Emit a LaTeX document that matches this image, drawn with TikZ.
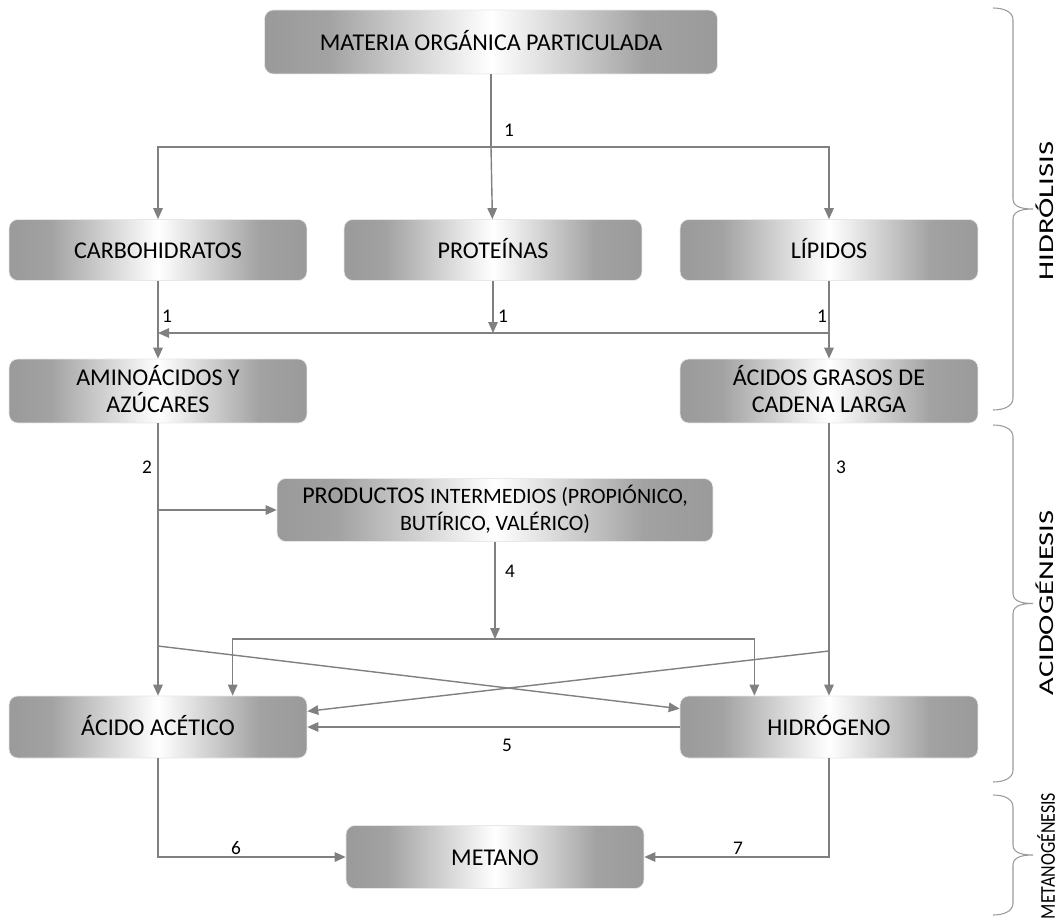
\documentclass[tikz,border=0pt]{standalone}
\usepackage{fontspec}
\setmainfont{Carlito}
\usetikzlibrary{arrows.meta,calc,positioning,decorations.pathreplacing}
\definecolor{cln}{RGB}{128,128,128}
\definecolor{cedge}{RGB}{154,154,154}
% grey at both ends, white in the middle
\pgfdeclarehorizontalshading{boxshade}{100bp}{color(0bp)=(cedge); color(25bp)=(cedge);
  color(32bp)=(cedge!92!white); color(50bp)=(white); color(67bp)=(cedge!92!white);
  color(75bp)=(cedge); color(100bp)=(cedge)}
\tikzset{
  box/.style={rectangle,rounded corners=5pt,shading=boxshade,draw=gray!18,
    line width=0.4pt,minimum width=5.96cm,minimum height=1.22cm,align=center,
    inner sep=3pt,font=\fontsize{13.7}{15.5}\selectfont,
    execute at begin node=\vphantom{Áy}},
  num/.style={inner sep=1pt,font=\fontsize{11}{13}\selectfont},
  side/.style={rotate=90,inner sep=1pt,font=\fontsize{12}{14}\selectfont},
  ln/.style={draw=cln,line width=0.8pt},
  arr/.style={ln,-{Triangle[length=2.2mm,width=1.9mm]}},
  brc/.style={draw=cedge,line width=0.6pt}
}
\newcommand{\smtext}{\fontsize{12.5}{15}\selectfont}
% phase brace on the right: #1 top, #2 bottom (px)
\newcommand{\phasebrace}[2]{%
  \draw[brc] (993,#1) to[out=0,in=90] (1013,#1+12) -- (1013,{(#1+#2)/2-10})
    to[out=-90,in=180] (1033,{(#1+#2)/2}) to[out=180,in=90] (1013,{(#1+#2)/2+10})
    -- (1013,#2-12) to[out=-90,in=0] (993,#2);}

\begin{document}
\begin{tikzpicture}[x=0.02cm,y=-0.02cm]
  \useasboundingbox (0,0) rectangle (1060,922);
  % boxes
  \node[box,minimum width=9.06cm,minimum height=1.28cm] (mat) at (491,42) {MATERIA ORGÁNICA PARTICULADA};
  \node[box] (carb) at (158,250) {CARBOHIDRATOS};
  \node[box] (prot) at (493,250) {PROTEÍNAS};
  \node[box] (lip) at (829,250) {LÍPIDOS};
  \node[box,minimum height=1.28cm] (amino) at (158,391) {AMINOÁCIDOS Y\\AZÚCARES};
  \node[box,minimum height=1.28cm] (grasos) at (829,391) {ÁCIDOS GRASOS DE\\CADENA LARGA};
  \node[box,minimum width=8.72cm,minimum height=1.26cm] (prod) at (495,510)
    {PRODUCTOS {\smtext INTERMEDIOS (PROPIÓNICO,}\\{\smtext BUTÍRICO, VALÉRICO)}};
  \node[box,minimum height=1.24cm] (acet) at (158,727) {ÁCIDO ACÉTICO};
  \node[box,minimum height=1.24cm] (hidro) at (829,727) {HIDRÓGENO};
  \node[box,minimum height=1.26cm] (met) at (495,857) {METANO};

  % hydrolysis
  \coordinate (h1) at (491,147);
  \draw[ln] (mat) -- (h1);
  \draw[arr] (h1) -| (carb);
  \draw[arr] (h1) -- (prot);
  \draw[arr] (h1) -| (lip);
  \coordinate (h2l) at (158,333);
  \coordinate (h2m) at (493,333);
  \coordinate (h2r) at (829,333);
  \draw[arr] (carb) -- (amino);
  \draw[arr] (lip) -- (grasos);
  \draw[arr] (prot) -- (h2m);
  \draw[arr] (h2r) -- (h2l);

  % acidogenesis
  \coordinate (b2) at (158,510);
  \coordinate (h4) at (495,639);
  \coordinate (x1) at (158,646);
  \coordinate (x2) at (829,651);
  \draw[arr] (amino) -- (acet);
  \draw[arr] (grasos) -- (hidro);
  \draw[arr] (b2) -- (prod);
  \draw[arr] (prod) -- (h4);
  \draw[arr] (h4) -| ($(acet.north)!0.5!(acet.north east)$);
  \draw[arr] (h4) -| ($(hidro.north)!0.5!(hidro.north west)$);
  \draw[arr] (x1) -- (hidro.173);
  \draw[arr] (x2) -- (acet.6);
  \draw[arr] (hidro) -- (acet);

  % methanogenesis
  \draw[arr] (acet) |- (met);
  \draw[arr] (hidro) |- (met);

  % step numbers
  \node[num] (n1) at (509,130) {1};
  \node[num] (n1a) at (167,316) {1};
  \node[num] (n1b) at (503,316) {1};
  \node[num] (n1c) at (822,316) {1};
  \node[num] (n2) at (147,467) {2};
  \node[num] (n3) at (841,467) {3};
  \node[num] (n4) at (510,571) {4};
  \node[num] (n5) at (507,745) {5};
  \node[num] (n6) at (236,848) {6};
  \node[num] (n7) at (738,848) {7};

  % phases
  \phasebrace{8}{410}
  \phasebrace{425}{782}
  \phasebrace{795}{915}
  \node[side] (hyd) at (1045,211) {\scalebox{1.45}[1]{HIDRÓLISIS}};
  \node[side] (aci) at (1045,603) {\scalebox{1.45}[1]{ACIDOGÉNESIS}};
  \node[side] (met2) at (1046,856) {\scalebox{0.85}[1]{METANOGÉNESIS}};
\end{tikzpicture}
\end{document}
